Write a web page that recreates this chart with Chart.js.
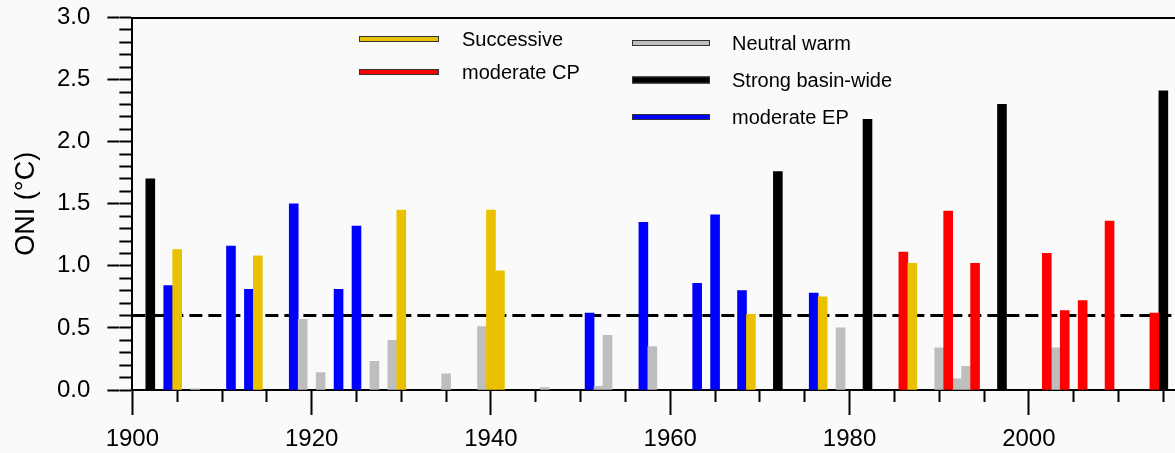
<!DOCTYPE html>
<html>
<head>
<meta charset="utf-8">
<title>ONI El Nino events</title>
<script src="https://cdn.jsdelivr.net/npm/chart.js@4.4.0/dist/chart.umd.min.js"></script>
<style>
    html, body { margin: 0; padding: 0; background: #fafafa; }
    #wrap { width: 1175px; height: 453px; }
</style>
</head>
<body>
<div id="wrap"><canvas id="oniChart" width="1175" height="453"></canvas></div>
<script>
// event years and peak ONI values
const successiveYears = [1905, 1914, 1930, 1940, 1941, 1969, 1977, 1987];
const successiveOni = [1.13, 1.08, 1.45, 1.45, 0.96, 0.61, 0.75, 1.02];

const cpYears = [1986, 1991, 1994, 2002, 2004, 2006, 2009, 2014];
const cpOni = [1.11, 1.44, 1.02, 1.10, 0.64, 0.72, 1.36, 0.62];

const neutralYears = [1907, 1919, 1921, 1927, 1929, 1935, 1939, 1946, 1952, 1953, 1958, 1979, 1990, 1992, 1993, 2003];
const neutralOni = [0.01, 0.57, 0.14, 0.23, 0.40, 0.13, 0.51, 0.02, 0.03, 0.44, 0.35, 0.50, 0.34, 0.09, 0.19, 0.34];

const strongYears = [1902, 1972, 1982, 1997, 2015];
const strongOni = [1.70, 1.76, 2.18, 2.30, 2.41];

const epYears = [1904, 1911, 1913, 1918, 1923, 1925, 1951, 1957, 1963, 1965, 1968, 1976];
const epOni = [0.84, 1.16, 0.81, 1.50, 0.81, 1.32, 0.62, 1.35, 0.86, 1.41, 0.80, 0.78];

const thresholdOni = 0.6;
const yearMin = 1900;
const yearMax = 2016.3;

const legendLabels = ['Successive', 'moderate CP', 'Neutral warm', 'Strong basin-wide', 'moderate EP'];
const seriesColors = ['#e9c100', '#ff0000', '#bebebe', '#000000', '#0000ff'];

const fontFamily = "'Liberation Sans', Arial, Helvetica, sans-serif";
Chart.defaults.font.family = fontFamily;
Chart.defaults.color = '#000';

function toPoints(years, values) {
    return years.map((yr, i) => ({ x: yr, y: values[i] }));
}

const seriesPoints = [
    toPoints(successiveYears, successiveOni),
    toPoints(cpYears, cpOni),
    toPoints(neutralYears, neutralOni),
    toPoints(strongYears, strongOni),
    toPoints(epYears, epOni)
];

const barSets = legendLabels.map((label, i) => ({
    type: 'bar',
    label: label,
    data: seriesPoints[i],
    backgroundColor: seriesColors[i],
    borderWidth: 0,
    grouped: false,
    categoryPercentage: 1.0,
    barPercentage: 1.0,
    xAxisID: 'x',
    yAxisID: 'y',
    order: 1
}));

const thresholdSet = {
    type: 'line',
    label: 'threshold',
    data: [{ x: yearMin, y: thresholdOni }, { x: yearMax, y: thresholdOni }],
    borderColor: '#000',
    borderWidth: 3,
    borderDash: [13, 6],
    pointRadius: 0,
    xAxisID: 'x',
    yAxisID: 'y',
    order: 10
};

// hand-placed legend, two columns inside the plot like the original
const legendSpots = [
    { x1: 359, x2: 439, y: 39, tx: 462, h: 6 },
    { x1: 359, x2: 439, y: 72, tx: 462, h: 6 },
    { x1: 632, x2: 710, y: 43, tx: 732, h: 6 },
    { x1: 632, x2: 710, y: 80, tx: 732, h: 7 },
    { x1: 632, x2: 710, y: 117, tx: 732, h: 6 }
];

const legendPlugin = {
    id: 'cornerLegend',
    afterDraw(chart) {
        const ctx = chart.ctx;
        ctx.save();
        ctx.font = '20px ' + fontFamily;
        ctx.textBaseline = 'middle';
        ctx.textAlign = 'left';
        legendLabels.forEach((label, i) => {
            const s = legendSpots[i];
            ctx.fillStyle = seriesColors[i];
            ctx.fillRect(s.x1, s.y - s.h / 2, s.x2 - s.x1, s.h);
            ctx.strokeStyle = '#333';
            ctx.lineWidth = 1;
            ctx.strokeRect(s.x1 + 0.5, s.y - s.h / 2 + 0.5, s.x2 - s.x1 - 1, s.h - 1);
            ctx.fillStyle = '#000';
            ctx.fillText(label, s.tx, s.y + 1);
        });
        ctx.restore();
    }
};

const xBase = {
    type: 'linear',
    min: yearMin,
    max: yearMax,
    offset: false
};

new Chart(document.getElementById('oniChart').getContext('2d'), {
    type: 'bar',
    data: {
        datasets: barSets.concat([thresholdSet])
    },
    options: {
        responsive: false,
        animation: false,
        // tick padding is counted twice by Chart.js, hence the negative bottom
        layout: { padding: { left: 3, right: 0, top: 17.5, bottom: -10 } },
        plugins: {
            legend: { display: false },
            tooltip: { enabled: false }
        },
        scales: {
            x: Object.assign({}, xBase, {
                position: 'bottom',
                weight: 0,
                ticks: { display: false, stepSize: 5, includeBounds: false },
                grid: { drawOnChartArea: false, offset: false, tickLength: 12, tickWidth: 2, tickColor: '#000' },
                border: { display: true, width: 2, color: '#000' }
            }),
            xMajor: Object.assign({}, xBase, {
                position: 'bottom',
                weight: 1,
                ticks: {
                    stepSize: 20,
                    includeBounds: false,
                    autoSkip: false,
                    maxRotation: 0,
                    padding: 12,
                    font: { size: 24, lineHeight: 1 },
                    color: '#000',
                    callback: v => String(v)
                },
                grid: { drawOnChartArea: false, offset: false, tickLength: 13, tickWidth: 2, tickColor: '#000' },
                border: { display: false }
            }),
            xTop: Object.assign({}, xBase, {
                position: 'top',
                ticks: { display: false },
                grid: { drawOnChartArea: false, drawTicks: false, offset: false },
                border: { display: true, width: 2, color: '#000' }
            }),
            y: {
                type: 'linear',
                position: 'left',
                min: 0,
                max: 3,
                weight: 0,
                ticks: { display: false, stepSize: 0.1 },
                grid: { drawOnChartArea: false, tickLength: 13, tickWidth: 2, tickColor: '#000' },
                border: { display: true, width: 2, color: '#000' }
            },
            yMajor: {
                type: 'linear',
                position: 'left',
                min: 0,
                max: 3,
                weight: 1,
                ticks: {
                    stepSize: 0.5,
                    padding: 17,
                    font: { size: 24 },
                    color: '#000',
                    callback: v => Number(v).toFixed(1)
                },
                grid: { drawOnChartArea: false, tickLength: 12, tickWidth: 2, tickColor: '#000' },
                border: { display: false },
                title: {
                    display: true,
                    text: 'ONI (°C)',
                    font: { size: 27, lineHeight: 1 },
                    color: '#000',
                    padding: { top: 10, bottom: 0 }
                },
                // label overhang would otherwise push the plot top down
                afterFit: scale => {
                    scale.paddingTop = 0;
                    scale.paddingBottom = 0;
                }
            }
        }
    },
    plugins: [legendPlugin]
});
</script>
</body>
</html>
